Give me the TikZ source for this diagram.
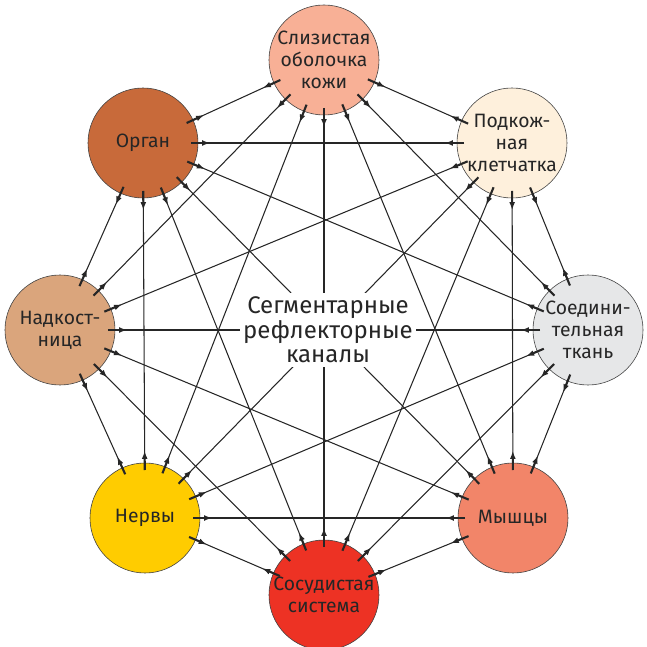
\documentclass[tikz,border=0pt]{standalone}
\usepackage{fontspec}
\setmainfont{Fira Sans}
\usetikzlibrary{calc,arrows.meta}
\definecolor{mucosa}{RGB}{248,176,150}
\definecolor{subcut}{RGB}{254,240,220}
\definecolor{connective}{RGB}{230,231,232}
\definecolor{muscle}{RGB}{242,133,105}
\definecolor{vessel}{RGB}{237,50,36}
\definecolor{nerve}{RGB}{255,204,0}
\definecolor{periost}{RGB}{218,165,124}
\definecolor{organ}{RGB}{200,106,58}
\tikzset{
  main/.style={circle, minimum size=3.3cm, inner sep=0pt, draw=black!75, line width=0.5pt,
    align=center, text=black!85, font=\fontsize{16.5}{19}\selectfont},
  connect/.style={line width=0.9pt, draw=black!85},
  stub/.style={-{Latex[length=7pt,width=5pt]}, line width=1.8pt, draw=black!85},
  hub/.style={fill=white, align=center, text=black!85, inner sep=3pt,
    font=\fontsize{20.5}{21}\selectfont}
}
\begin{document}
\begin{tikzpicture}[x=0.03cm,y=0.03cm]
  \useasboundingbox (-324,-317) rectangle (323,330);
  \node[main,fill=mucosa] (Mucosa) at (0,270) {Слизистая\\оболочка\\кожи};
  \node[main,fill=subcut] (Subcut) at (188,187) {Подкож-\\ная\\клетчатка};
  \node[main,fill=connective] (Connective) at (264,0) {Соедини-\\тельная\\ткань};
  \node[main,fill=muscle] (Muscle) at (189,-188) {Мышцы};
  \node[main,fill=vessel] (Vessel) at (0,-265) {Сосудистая\\система};
  \node[main,fill=nerve] (Nerve) at (-179,-188) {Нервы};
  \node[main,fill=periost] (Periost) at (-264,0) {Надкост-\\ница};
  \node[main,fill=organ] (Organ) at (-181,187) {Орган};

  % every pair is linked both ways
  \foreach \a/\b in {Mucosa/Subcut, Mucosa/Connective, Mucosa/Muscle, Mucosa/Vessel,
      Mucosa/Nerve, Mucosa/Periost, Mucosa/Organ,
      Subcut/Connective, Subcut/Muscle, Subcut/Vessel, Subcut/Nerve, Subcut/Periost, Subcut/Organ,
      Connective/Muscle, Connective/Vessel, Connective/Nerve, Connective/Periost, Connective/Organ,
      Muscle/Vessel, Muscle/Nerve, Muscle/Periost, Muscle/Organ,
      Vessel/Nerve, Vessel/Periost, Vessel/Organ,
      Nerve/Periost, Nerve/Organ,
      Periost/Organ} {
    \draw[connect] (\a) -- (\b);
    \draw[stub] ($(\a)!1.44cm!(\b)$) -- ($(\a)!2.02cm!(\b)$);
    \draw[stub] ($(\b)!1.44cm!(\a)$) -- ($(\b)!2.02cm!(\a)$);
  }

  \node[hub] (Hub) at (4,0) {Сегментарные\\рефлекторные\\каналы};
\end{tikzpicture}
\end{document}
